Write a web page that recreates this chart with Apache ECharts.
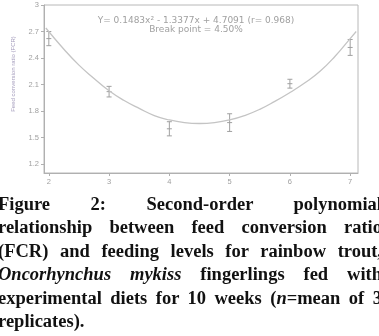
<!DOCTYPE html>
<html>
<head>
<meta charset="utf-8">
<script src="https://cdn.jsdelivr.net/npm/echarts@6/dist/echarts.min.js"></script>
<style>
  html, body { margin: 0; padding: 0; background: #fff; overflow: hidden; }
  #chart { position: absolute; left: 0; top: 0; width: 379px; height: 336px; }
  #caption {
    position: absolute; left: -2px; top: 193px; width: 384px;
    font-family: "Liberation Serif", "Times New Roman", serif;
    font-weight: bold; font-size: 18.5px; line-height: 23.4px; color: #111;
  }
  #caption div { text-align: justify; text-align-last: justify; }
  #caption div.last { text-align-last: left; }
</style>
</head>
<body>
<div id="chart"></div>
<div id="caption">
  <div>Figure 2: Second-order polynomial</div>
  <div>relationship between feed conversion ratio</div>
  <div>(FCR) and feeding levels for rainbow trout,</div>
  <div><i>Oncorhynchus mykiss</i> fingerlings fed with</div>
  <div>experimental diets for 10 weeks (<i>n</i>=mean of 3</div>
  <div class="last">replicates).</div>
</div>
<script>
// feeding level (% body weight) and measured FCR
var levels = [2, 3, 4, 5, 6, 7]
var fcrMean = [2.62, 2.02, 1.60, 1.67, 2.11, 2.52]
var fcrErr = [0.08, 0.06, 0.08, 0.10, 0.05, 0.09]

// fitted curve
var fitX = [1.95, 2.25, 2.5, 2.75, 3, 3.25, 3.5, 3.75, 4, 4.25, 4.5, 4.75, 5, 5.25, 5.5, 5.75, 6, 6.25, 6.5, 6.75, 7, 7.1]
var fitY = [2.74, 2.50, 2.32, 2.17, 2.03, 1.92, 1.83, 1.75, 1.70, 1.67, 1.66, 1.67, 1.70, 1.75, 1.82, 1.91, 2.01, 2.12, 2.25, 2.42, 2.62, 2.70]

var xTicks = [2, 3, 4, 5, 6, 7]
var yTicks = [1.2, 1.5, 1.8, 2.1, 2.4, 2.7, 3]

var myChart = echarts.init(document.getElementById('chart'))

var barData = levels.map(function (x, i) {
  return [x, fcrMean[i] - fcrErr[i], fcrMean[i], fcrMean[i] + fcrErr[i]]
})

myChart.setOption({
  animation: false,
  grid: { left: 44, right: 21, top: 5, bottom: 163, show: true, borderColor: '#b8b8b8', borderWidth: 1 },
  xAxis: {
    type: 'value', min: 1.92, max: 7.13,
    axisLine: { lineStyle: { color: '#b0b0b0' } },
    axisTick: { customValues: xTicks, length: 3, lineStyle: { color: '#b0b0b0' } },
    axisLabel: { customValues: xTicks, color: '#a0a0a0', fontSize: 7.5, margin: 5, fontFamily: 'Arial' },
    splitLine: { show: false }
  },
  yAxis: {
    type: 'value', min: 1.1, max: 3,
    axisLine: { show: true, lineStyle: { color: '#b0b0b0' } },
    axisTick: { show: true, customValues: yTicks, length: 3, lineStyle: { color: '#b0b0b0' } },
    axisLabel: {
      customValues: yTicks, color: '#a0a0a0', fontSize: 7.5, margin: 5, fontFamily: 'Arial',
      formatter: function (v) { return String(Math.round(v * 10) / 10) }
    },
    splitLine: { show: false }
  },
  graphic: [
    {
      type: 'text', x: 13, y: 74, rotation: Math.PI / 2,
      style: {
        text: 'Feed conversion ratio (FCR)', fill: '#a49cbc', fontSize: 6,
        fontFamily: 'Arial', align: 'center', verticalAlign: 'middle'
      }
    },
    {
      type: 'text', x: 196, y: 21,
      style: {
        text: 'Y= 0.1483x\u00b2 - 1.3377x + 4.7091 (r= 0.968)', fill: '#a0a0a0', fontSize: 9,
        fontFamily: 'DejaVu Sans', align: 'center', verticalAlign: 'middle'
      }
    },
    {
      type: 'text', x: 196, y: 30,
      style: {
        text: 'Break point = 4.50%', fill: '#a0a0a0', fontSize: 9,
        fontFamily: 'DejaVu Sans', align: 'center', verticalAlign: 'middle'
      }
    }
  ],
  series: [
    {
      type: 'line', data: fitX.map(function (x, i) { return [x, fitY[i]] }),
      smooth: true, showSymbol: false, silent: true,
      lineStyle: { color: '#c4c4c4', width: 1.3 }
    },
    {
      type: 'custom', data: barData, silent: true,
      renderItem: function (params, api) {
        var lo = api.coord([api.value(0), api.value(1)])
        var mid = api.coord([api.value(0), api.value(2)])
        var hi = api.coord([api.value(0), api.value(3)])
        var w = 2.5
        var st = { stroke: '#a0a0a0', lineWidth: 1 }
        return {
          type: 'group',
          children: [
            { type: 'line', shape: { x1: hi[0], y1: hi[1], x2: lo[0], y2: lo[1] }, style: st },
            { type: 'line', shape: { x1: hi[0] - w, y1: hi[1], x2: hi[0] + w, y2: hi[1] }, style: st },
            { type: 'line', shape: { x1: lo[0] - w, y1: lo[1], x2: lo[0] + w, y2: lo[1] }, style: st },
            { type: 'line', shape: { x1: mid[0] - w, y1: mid[1], x2: mid[0] + w, y2: mid[1] }, style: st }
          ]
        }
      }
    }
  ]
})

window.addEventListener('resize', function () { myChart.resize() })
</script>
</body>
</html>
